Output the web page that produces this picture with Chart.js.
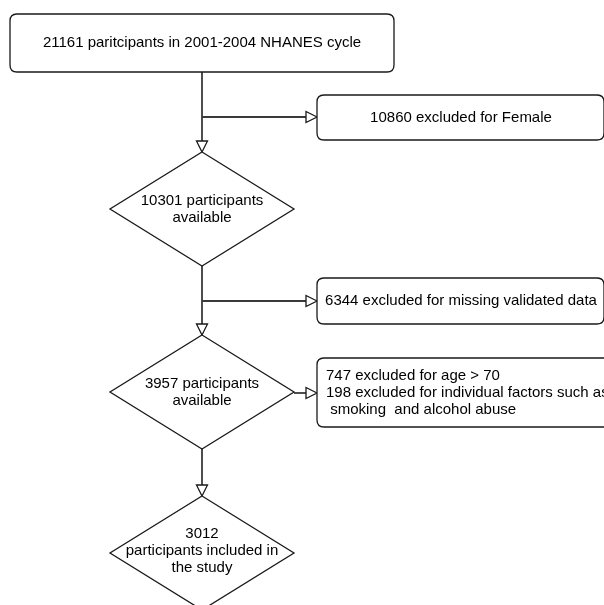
<!DOCTYPE html>
<html>
<head>
<meta charset="utf-8">
<script src="https://cdn.jsdelivr.net/npm/chart.js@4.4.1/dist/chart.umd.min.js"></script>
<style>
  html, body { margin:0; padding:0; background:#fff; }
  #wrap { width:604px; height:605px; position:relative; }
</style>
</head>
<body>
<div id="wrap"><canvas id="chart"></canvas></div>
<script>
// flow steps (text as drawn, typo included)
const mainSteps = [
  "21161 paritcipants in 2001-2004 NHANES cycle",
  "10301 participants\navailable",
  "3957 participants\navailable",
  "3012\nparticipants included in\nthe study"
];
const exclusions = [
  "10860 excluded for Female",
  "6344 excluded for missing validated data",
  "747 excluded for age > 70\n198 excluded for individual factors such as\n smoking  and alcohol abuse"
];

// layout in canvas units (x 0..604, y 0..605 top-down)
const LAYOUT = {
  colX: 202,
  main: [
    { y: 43,  shape: "box", w: 384, h: 58 },
    { y: 209, shape: "diamond", w: 184, h: 114 },
    { y: 392, shape: "diamond", w: 184, h: 114 },
    { y: 553, shape: "diamond", w: 184, h: 114, textY: 551 }
  ],
  side: [
    { x: 317, y: 117.5, w: 287, h: 45, align: "center", branchY: 117 },
    { x: 317, y: 301,   w: 287, h: 46, align: "center", branchY: 301 },
    { x: 317, y: 392.5, w: 310, h: 69, align: "left", branchY: 393, fromDiamond: true }
  ],
  lineH: 17
};

const FONT = '15px "Liberation Sans", Arial, sans-serif';
const INK = "#000";

function roundRect(ctx, x, y, w, h, r){
  ctx.beginPath();
  ctx.moveTo(x + r, y);
  ctx.lineTo(x + w - r, y); ctx.quadraticCurveTo(x + w, y, x + w, y + r);
  ctx.lineTo(x + w, y + h - r); ctx.quadraticCurveTo(x + w, y + h, x + w - r, y + h);
  ctx.lineTo(x + r, y + h); ctx.quadraticCurveTo(x, y + h, x, y + h - r);
  ctx.lineTo(x, y + r); ctx.quadraticCurveTo(x, y, x + r, y);
  ctx.closePath();
}

function arrow(ctx, x0, y0, x1, y1){
  const L = 11, hw = 5.5;
  const a = Math.atan2(y1 - y0, x1 - x0);
  const bx = x1 - L * Math.cos(a), by = y1 - L * Math.sin(a);
  ctx.save();
  ctx.lineWidth = 1.8; ctx.strokeStyle = "#3a3a3a";
  ctx.beginPath(); ctx.moveTo(x0, y0); ctx.lineTo(bx, by); ctx.stroke();
  ctx.restore();
  ctx.beginPath();
  ctx.moveTo(x1, y1);
  ctx.lineTo(bx + hw * Math.sin(a), by - hw * Math.cos(a));
  ctx.lineTo(bx - hw * Math.sin(a), by + hw * Math.cos(a));
  ctx.closePath();
  ctx.fillStyle = "#fff"; ctx.fill(); ctx.stroke();
}

const flowPlugin = {
  id: "flow",
  afterDatasetsDraw(chart){
    const { ctx } = chart;
    const sx = chart.scales.x, sy = chart.scales.y;
    const X = (v) => sx.getPixelForValue(v), Y = (v) => sy.getPixelForValue(v);
    const cx = X(LAYOUT.colX);
    ctx.save();
    ctx.strokeStyle = "#1a1a1a"; ctx.lineWidth = 1.3; ctx.lineJoin = "miter";
    ctx.font = FONT; ctx.textBaseline = "middle";

    // vertical connectors + arrows into next main node
    LAYOUT.main.forEach((n, i) => {
      if (i === 0) return;
      const prev = LAYOUT.main[i - 1];
      arrow(ctx, cx, Y(prev.y + prev.h / 2), cx, Y(n.y - n.h / 2));
    });

    // side branches
    LAYOUT.side.forEach((s, i) => {
      const x0 = s.fromDiamond ? X(LAYOUT.colX + LAYOUT.main[i + 1].w / 2) : cx;
      arrow(ctx, x0, Y(s.branchY), X(s.x), Y(s.branchY));
    });

    // main nodes
    LAYOUT.main.forEach((n, i) => {
      const top = Y(n.y - n.h / 2), bot = Y(n.y + n.h / 2);
      const l = X(LAYOUT.colX - n.w / 2), r = X(LAYOUT.colX + n.w / 2);
      if (n.shape === "box") roundRect(ctx, l, top, r - l, bot - top, 7);
      else {
        ctx.beginPath();
        ctx.moveTo(cx, top); ctx.lineTo(r, Y(n.y)); ctx.lineTo(cx, bot); ctx.lineTo(l, Y(n.y));
        ctx.closePath();
      }
      ctx.fillStyle = "#fff"; ctx.fill(); ctx.stroke();
      const lines = mainSteps[i].split("\n");
      const ty = n.textY ?? n.y;
      ctx.fillStyle = INK; ctx.textAlign = "center";
      lines.forEach((t, k) => ctx.fillText(t, cx, Y(ty + (k - (lines.length - 1) / 2) * LAYOUT.lineH)));
    });

    // exclusion boxes
    LAYOUT.side.forEach((s, i) => {
      const l = X(s.x), r = X(s.x + s.w), top = Y(s.y - s.h / 2), bot = Y(s.y + s.h / 2);
      roundRect(ctx, l, top, r - l, bot - top, 7);
      ctx.fillStyle = "#fff"; ctx.fill(); ctx.stroke();
      const lines = exclusions[i].split("\n");
      ctx.fillStyle = INK;
      ctx.textAlign = s.align;
      const tx = s.align === "left" ? l + 9 : X(s.x + s.w / 2 + 0.5);
      lines.forEach((t, k) => ctx.fillText(t, tx, Y(s.y + (k - (lines.length - 1) / 2) * LAYOUT.lineH)));
    });
    ctx.restore();
  }
};

new Chart(document.getElementById("chart"), {
  type: "scatter",
  data: {
    datasets: [
      { label: "steps", data: LAYOUT.main.map(n => ({ x: LAYOUT.colX, y: n.y })), pointRadius: 0 },
      { label: "excluded", data: LAYOUT.side.map(s => ({ x: s.x + s.w / 2, y: s.y })), pointRadius: 0 }
    ]
  },
  options: {
    responsive: true,
    maintainAspectRatio: false,
    animation: false,
    layout: { padding: 0 },
    plugins: { legend: { display: false }, tooltip: { enabled: false } },
    scales: {
      x: { type: "linear", min: 0, max: 604, display: false },
      y: { type: "linear", min: 0, max: 605, reverse: true, display: false }
    }
  },
  plugins: [flowPlugin]
});
</script>
</body>
</html>
